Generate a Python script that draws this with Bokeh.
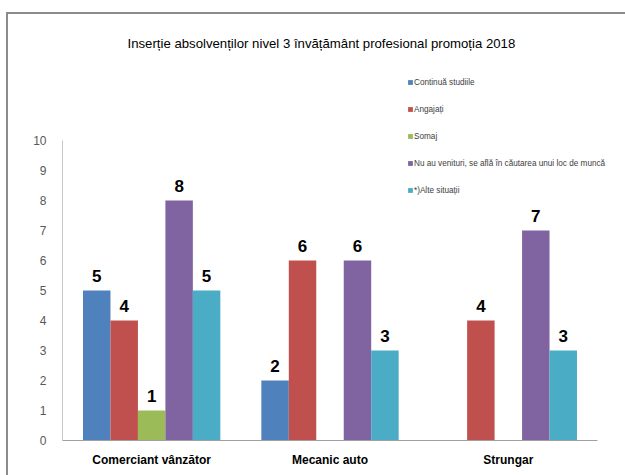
from bokeh.plotting import figure
from bokeh.models import (ColumnDataSource, Range1d, FixedTicker, Legend, LegendItem)
from bokeh.core.properties import value
from bokeh.embed import file_html
from bokeh.resources import INLINE

categories = ["Comerciant vânzător", "Mecanic auto", "Strungar"]
series_names = ["Continuă studiile", "Angajați", "Somaj",
                "Nu au venituri, se află în căutarea unui loc de muncă", "*)Alte situații"]
continua = [5, 2, 0]
angajati = [4, 6, 4]
somaj = [1, 0, 0]
nu_au_venituri = [8, 6, 7]
alte = [5, 3, 3]
y_ticks = [0, 1, 2, 3, 4, 5, 6, 7, 8, 9, 10]
title_text = "Inserție absolvenților nivel 3 învățământ profesional  promoția 2018"

series_values = [continua, angajati, somaj, nu_au_venituri, alte]
colors = ["#4F81BD", "#C0504D", "#9BBB59", "#8064A2", "#4BACC6"]

FONT = "Liberation Sans"

W, H = 625, 475
left, right, top, bottom = 62, 617, 55, 440
n = len(categories)
x_end = n * (right - left) / 535.0
y_end = (bottom - top) / 30.0

p = figure(width=W, height=H, output_backend="svg", toolbar_location=None,
           x_range=Range1d(0, x_end), y_range=Range1d(0, y_end),
           min_border_left=left, min_border_right=W - right, min_border_top=top,
           min_border_bottom=H - bottom, title=title_text)
p.title.align = "left"
p.title.text_font = FONT
p.title.text_font_size = "13.2px"
p.title.text_font_style = "normal"
p.title.text_color = "#000000"
p.title.offset = 65

p.xgrid.visible = False
p.ygrid.visible = False
p.outline_line_color = None
p.background_fill_color = "white"
p.background_fill_alpha = 0
p.border_fill_alpha = 0
p.styles = {
    "background": (
        "linear-gradient(to right, transparent 6px, #8c8c8c 6px, #8c8c8c 8px, transparent 8px) "
        "0 12px / 100% 700px no-repeat, "
        "linear-gradient(to bottom, transparent 12px, #8c8c8c 12px, #8c8c8c 14px, transparent 14px) "
        "6px 0 / 100% 100% no-repeat, white"),
}

bw = 0.154
offsets = [-2 * bw, -bw, 0, bw, 2 * bw]
centers = [i + 0.5 for i in range(n)]
items = []
for name, vals, col, off in zip(series_names, series_values, colors, offsets):
    xs = [c + off for c in centers]
    src = ColumnDataSource(dict(x=xs, v=vals))
    r = p.vbar(x="x", top="v", width=bw, source=src, fill_color=col, line_color=None)
    items.append(LegendItem(label=name, renderers=[r]))
    xs_nz = [x for x, v in zip(xs, vals) if v != 0]
    vals_nz = [v for v in vals if v != 0]
    lsrc = ColumnDataSource(dict(x=xs_nz, v=vals_nz, t=[str(v) for v in vals_nz]))
    p.text(x="x", y="v", text="t", source=lsrc,
           text_align="center", text_baseline="bottom", y_offset=-9,
           text_font=value(FONT), text_font_style="bold",
           text_font_size="17px", text_color="#000000")

legend = Legend(items=items, location=(345, 244), orientation="vertical")
legend.border_line_alpha = 0
legend.background_fill_alpha = 0
legend.padding = 0
legend.margin = 0
legend.spacing = 15
legend.glyph_width = 6
legend.glyph_height = 6
legend.label_height = 12
legend.label_standoff = 1
legend.label_text_font = FONT
legend.label_text_font_size = "8.2px"
legend.label_text_color = "#404040"
p.add_layout(legend, "center")

# y axis
p.yaxis.bounds = (0, 10)
p.yaxis.ticker = FixedTicker(ticks=y_ticks)
p.yaxis.axis_line_color = "#C8C8C8"
p.yaxis.major_tick_line_color = None
p.yaxis.minor_tick_line_color = None
p.yaxis.major_label_text_font = FONT
p.yaxis.major_label_text_font_size = "12px"
p.yaxis.major_label_text_color = "#595959"
p.yaxis.major_label_standoff = 10

# x axis (categorical labels at category centres)
p.xaxis.bounds = (0, n)
p.xaxis.ticker = FixedTicker(ticks=centers)
p.xaxis.major_label_overrides = {c: cat for c, cat in zip(centers, categories)}
p.xaxis.axis_line_color = "#A0A0A0"
p.xaxis.major_tick_line_color = None
p.xaxis.minor_tick_line_color = None
p.xaxis.major_label_text_font = FONT
p.xaxis.major_label_text_font_style = "bold"
p.xaxis.major_label_text_font_size = "12px"
p.xaxis.major_label_text_color = "#000000"
p.xaxis.major_label_standoff = 6

open("out.html", "w").write(file_html(p, INLINE))
